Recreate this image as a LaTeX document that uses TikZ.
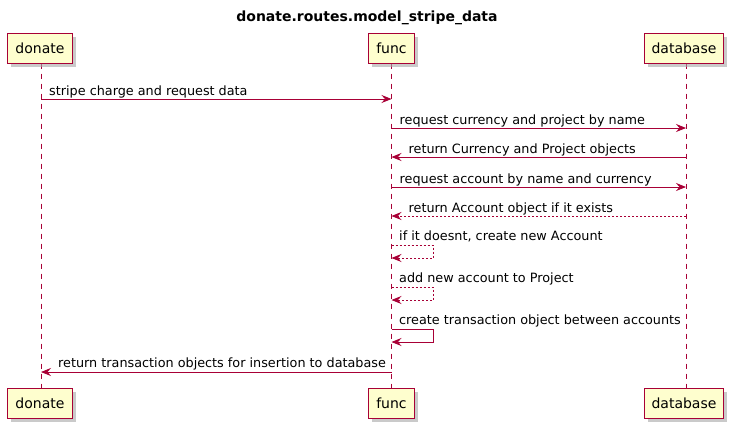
\documentclass[tikz,border=0pt]{standalone}
\usepackage{fontspec}
\setmainfont{DejaVu Sans}
\usepackage{tikz}
\usetikzlibrary{arrows.meta,shadows,calc,backgrounds}
\definecolor{umlred}{HTML}{A80036}
\definecolor{umlfill}{HTML}{FEFECE}

\begin{document}
\begin{tikzpicture}[x=1pt,y=-1pt,
  actor/.style={draw=umlred,line width=1pt,fill=umlfill,minimum height=30pt,inner xsep=7.5pt,
    font=\fontsize{14}{16}\selectfont,
    drop shadow={shadow xshift=3.5pt,shadow yshift=-3.5pt,fill=black!35,opacity=0.6}},
  lifeline/.style={draw=umlred,line width=0.7pt,dash pattern=on 5pt off 5pt},
  msg/.style={draw=umlred,line width=0.8pt,-{Stealth[length=10pt,width=8pt,inset=3.5pt]}},
  reply/.style={msg,dash pattern=on 2pt off 2pt},
  lbl/.style={anchor=base west,inner sep=0pt,font=\fontsize{12.8}{14}\selectfont}]
\useasboundingbox (0,0) rectangle (732,429);
\node[font=\bfseries\fontsize{14}{16}\selectfont] (title) at (367,18) {donate.routes.model\_stripe\_data};
% participants
\node[actor] (donateTop) at (40,48) {donate};
\node[actor] (funcTop) at (391.5,48) {func};
\node[actor] (dbTop) at (684,48) {database};
\node[actor] (donateBot) at (40,403) {donate};
\node[actor] (funcBot) at (391.5,403) {func};
\node[actor] (dbBot) at (684,403) {database};
\begin{scope}[on background layer]
\draw[lifeline] (donateTop.south) ++(1,0) coordinate (dA) -- (dA |- donateBot.north);
\draw[lifeline] (funcTop.south) -- (funcBot.north);
\draw[lifeline] (dbTop.south) ++(2,0) coordinate (bA) -- (bA |- dbBot.north);
\end{scope}
% messages
\coordinate (d1) at (41,99);   \coordinate (f1) at (391.5,99);
\coordinate (f2) at (391.5,128); \coordinate (b2) at (686,128);
\coordinate (b3) at (686,157); \coordinate (f3) at (391.5,157);
\coordinate (f4) at (391.5,187); \coordinate (b4) at (686,187);
\coordinate (b5) at (686,216); \coordinate (f5) at (391.5,216);
\coordinate (f9) at (391.5,372); \coordinate (d9) at (41,372);
\draw[msg] (d1) -- (f1);
\node[lbl] at ($(d1)+(8,-4)$) {stripe charge and request data};
\draw[msg] (f2) -- (b2);
\node[lbl] at ($(f2)+(8,-4)$) {request currency and project by name};
\draw[msg] (b3) -- (f3);
\node[lbl] at ($(f3)+(17,-4)$) {return Currency and Project objects};
\draw[msg] (f4) -- (b4);
\node[lbl] at ($(f4)+(8,-4)$) {request account by name and currency};
\draw[reply] (b5) -- (f5);
\node[lbl] at ($(f5)+(17,-4)$) {return Account object if it exists};
% self calls
\foreach \top/\style/\txt in {245/reply/{if it doesnt, create new Account},
    287/reply/{add new account to Project},
    329/msg/{create transaction object between accounts}}{
  \draw[\style] (391.5,\top) -- (433,\top) -- (433,\top+13) -- (391.5,\top+13);
  \node[lbl] at (399,\top-5) {\txt};
}
\draw[msg] (f9) -- (d9);
\node[lbl] at ($(d9)+(17,-5)$) {return transaction objects for insertion to database};
\end{tikzpicture}
\end{document}
